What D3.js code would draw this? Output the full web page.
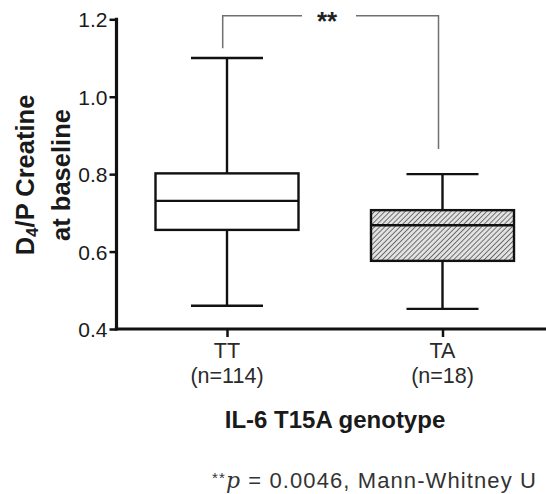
<!DOCTYPE html>
<html><head><meta charset="utf-8">
<script src="https://cdn.jsdelivr.net/npm/d3@7"></script>
<style>body{margin:0;background:#fff}svg{display:block;font-family:"Liberation Sans",Arial,sans-serif}</style>
</head><body><svg id="c" width="546" height="494"></svg>
<script>
const categories = ["TT", "TA"];
const sampleSizes = ["(n=114)", "(n=18)"];
const whiskerLow = [0.46, 0.452];
const q1 = [0.656, 0.576];
const median = [0.731, 0.668];
const q3 = [0.802, 0.707];
const whiskerHigh = [1.1, 0.80];
const yTicks = [0.4, 0.6, 0.8, 1.0, 1.2];
const bracketEnds = [1.125, 0.865];

const svg = d3.select("#c");
const x0 = 116.5, x1 = 546, yTop = 19.3, yBot = 329;
const y = d3.scaleLinear().domain([0.4, 1.2]).range([yBot, yTop]);
const x = d3.scalePoint().domain(categories).range([227, 442.5]);

const defs = svg.append("defs");
const pat = defs.append("pattern").attr("id","hatch").attr("patternUnits","userSpaceOnUse")
  .attr("width",3.6).attr("height",3.6).attr("patternTransform","rotate(45)");
pat.append("rect").attr("width",3.6).attr("height",3.6).attr("fill","#e2e2e2");
pat.append("line").attr("x1",0).attr("y1",0).attr("x2",0).attr("y2",3.6).attr("stroke","#4a4a4a").attr("stroke-width",1.5);

// axes
const yAxis = d3.axisLeft(y).tickValues(yTicks).tickFormat(d3.format(".1f")).tickSize(7).tickPadding(2);
const gy = svg.append("g").attr("transform",`translate(${x0},0)`).call(yAxis);
gy.select(".domain").remove();
gy.selectAll(".tick line").attr("stroke","#111").attr("stroke-width",2.5);
gy.selectAll(".tick text").attr("font-size",21).attr("fill","#1a1a1a").attr("dy","0.36em");
svg.append("line").attr("x1",x0).attr("x2",x0).attr("y1",yTop-1.5).attr("y2",yBot+1.5).attr("stroke","#111").attr("stroke-width",3.2);

const xAxis = d3.axisBottom(x).tickSize(8).tickFormat("");
const gx = svg.append("g").attr("transform",`translate(0,${yBot})`).call(xAxis);
gx.select(".domain").remove();
gx.selectAll(".tick line").attr("stroke","#111").attr("stroke-width",2.5);
svg.append("line").attr("x1",x0-1.6).attr("x2",x1).attr("y1",yBot).attr("y2",yBot).attr("stroke","#111").attr("stroke-width",3.2);

// boxes
const boxW = 143, capW = 72;
categories.forEach((c,i)=>{
  const cx = x(c);
  const g = svg.append("g").attr("stroke","#111").attr("stroke-width",2.4);
  g.append("line").attr("x1",cx).attr("x2",cx).attr("y1",y(whiskerHigh[i])).attr("y2",y(q3[i]));
  g.append("line").attr("x1",cx).attr("x2",cx).attr("y1",y(q1[i])).attr("y2",y(whiskerLow[i]));
  g.append("line").attr("x1",cx-capW/2).attr("x2",cx+capW/2).attr("y1",y(whiskerHigh[i])).attr("y2",y(whiskerHigh[i]));
  g.append("line").attr("x1",cx-capW/2).attr("x2",cx+capW/2).attr("y1",y(whiskerLow[i])).attr("y2",y(whiskerLow[i]));
  g.append("rect").attr("x",cx-boxW/2).attr("y",y(q3[i])).attr("width",boxW).attr("height",y(q1[i])-y(q3[i]))
    .attr("fill", i===0 ? "#fff" : "url(#hatch)");
  g.append("line").attr("x1",cx-boxW/2).attr("x2",cx+boxW/2).attr("y1",y(median[i])).attr("y2",y(median[i]));
  svg.append("text").attr("x",cx).attr("y",358).attr("text-anchor","middle").attr("font-size",21.5).attr("fill","#2a2a2a").text(c);
  svg.append("text").attr("x",cx).attr("y",383).attr("text-anchor","middle").attr("font-size",21.5).attr("fill","#2a2a2a").text(sampleSizes[i]);
});

// significance bracket
const by = 15.7;
const bl = x(categories[0]) - 4.3, br = x(categories[1]) - 4;
const bg = svg.append("g").attr("stroke","#707070").attr("stroke-width",1.5).attr("fill","none");
bg.append("path").attr("d",`M${bl},${y(bracketEnds[0])}V${by}H302`);
bg.append("path").attr("d",`M356,${by}H${br}V${y(bracketEnds[1])}`);
svg.append("text").attr("x",327).attr("y",30).attr("text-anchor","middle").attr("font-size",26).attr("font-weight","bold").attr("fill","#222").text("**");

// y label
const yl = svg.append("text").attr("transform","translate(0,175) rotate(-90)").attr("text-anchor","middle")
  .attr("font-size",25.5).attr("font-weight","bold").attr("fill","#1a1a1a");
const t1 = yl.append("tspan").attr("x",0).attr("y",34);
t1.append("tspan").text("D");
t1.append("tspan").attr("font-size",17).attr("dy",4).text("4");
t1.append("tspan").attr("dy",-4).text("/P Creatine");
yl.append("tspan").attr("x",0).attr("y",70).text("at baseline");

// x title
svg.append("text").attr("x",335).attr("y",428).attr("text-anchor","middle").attr("font-size",24).attr("font-weight","bold").attr("fill","#1a1a1a").text("IL-6 T15A genotype");

// footnote
const fn = svg.append("text").attr("x",537).attr("y",488).attr("text-anchor","end").attr("font-size",22).attr("letter-spacing",1.1).attr("fill","#333");
fn.append("tspan").attr("font-size",15).attr("dy",-5).text("**");
fn.append("tspan").attr("dy",5).attr("font-style","italic").attr("font-family","'DejaVu Serif',serif").text("p");
fn.append("tspan").text(" = 0.0046, Mann-Whitney U");
</script></body></html>
